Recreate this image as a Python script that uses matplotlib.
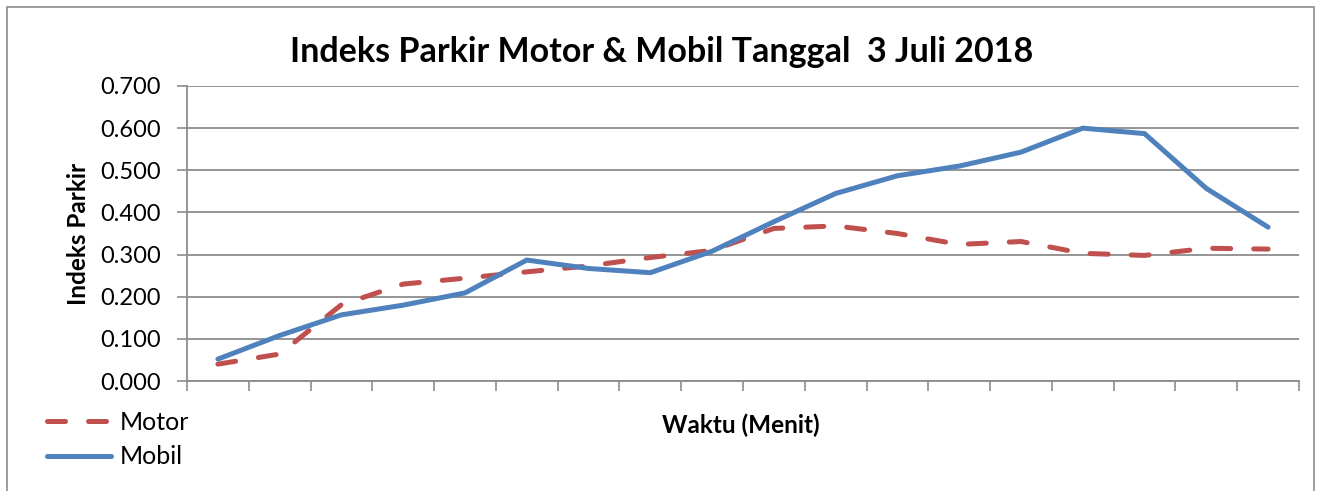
import matplotlib.pyplot as plt
from matplotlib.patches import Rectangle

# parking index per time slot (18 observation intervals)
n_slots = 18
motor = [0.040, 0.064, 0.181, 0.230, 0.244, 0.259, 0.273, 0.293, 0.310,
         0.362, 0.368, 0.350, 0.324, 0.331, 0.303, 0.298, 0.315, 0.313]
mobil = [0.052, 0.108, 0.157, 0.180, 0.209, 0.287, 0.267, 0.257, 0.308,
         0.378, 0.445, 0.487, 0.510, 0.543, 0.600, 0.587, 0.457, 0.365]
y_ticks = [0.0, 0.1, 0.2, 0.3, 0.4, 0.5, 0.6, 0.7]

plt.rcParams['font.family'] = ['Lato', 'DejaVu Sans']

W, H = 1322, 491
fig = plt.figure(figsize=(W / 100, H / 100), dpi=100)
ax = fig.add_axes([187 / W, 1 - 381 / H, 1112 / W, 295 / H])

# outer chart border
fig.patches.append(Rectangle((7 / W, -0.1), 1307 / W, 1.1 - 7 / H,
                             transform=fig.transFigure, fill=False,
                             edgecolor='#8c8c8c', lw=1.2))

x = list(range(n_slots))
ax.plot(x, motor, color='#C0504D', lw=3.6, linestyle=(0, (3.6, 4.6)),
        solid_capstyle='round', dash_capstyle='round', label='Motor')
ax.plot(x, mobil, color='#4F81BD', lw=3.6, solid_joinstyle='round',
        solid_capstyle='round', label='Mobil')

ax.set_xlim(-0.5, n_slots - 0.5)
ax.set_ylim(0, 0.7)
ax.set_xticks([i - 0.5 for i in range(n_slots + 1)])
ax.set_xticklabels([])
ax.set_yticks(y_ticks)
ax.set_yticklabels([f'{v:.3f}' for v in y_ticks], fontsize=17)
ax.tick_params(axis='both', direction='out', length=7, width=1.2,
               color='#8c8c8c')
ax.tick_params(axis='y', pad=12)
ax.grid(axis='y', color='#8c8c8c', lw=1.3)
ax.set_axisbelow(True)
for side in ['top', 'right']:
    ax.spines[side].set_visible(False)
for side in ['left', 'bottom']:
    ax.spines[side].set_color('#8c8c8c')
    ax.spines[side].set_linewidth(1.3)

fig.text(662 / W, 1 - 52 / H, 'Indeks Parkir Motor & Mobil Tanggal  3 Juli 2018',
         fontsize=24.5, fontweight='bold', ha='center', va='center')
fig.text(78 / W, 1 - 234 / H, 'Indeks Parkir', fontsize=17.5,
         fontweight='bold', rotation=90, ha='center', va='center')
fig.text(741 / W, 1 - 425 / H, 'Waktu (Menit)', fontsize=17.5,
         fontweight='bold', ha='center', va='center')

fig.legend(loc='upper left', bbox_to_anchor=(37 / W, 1 - 401 / H),
           frameon=False, fontsize=18, handlelength=2.55, handletextpad=0.35,
           labelspacing=0.45, borderaxespad=0)

fig.savefig('out.png', dpi=100)
